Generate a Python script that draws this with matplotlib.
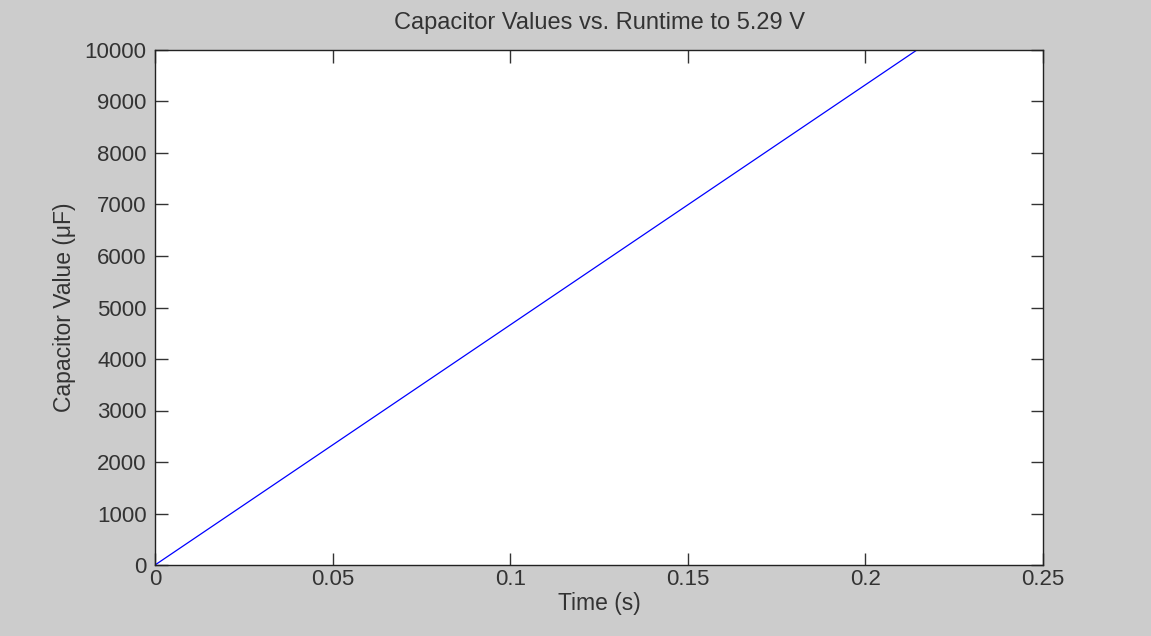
import matplotlib
matplotlib.use("Agg")
import matplotlib.pyplot as plt

# values
time_s = [0.0, 0.2145]
cap_uF = [0, 10000]
x_ticks = [0, 0.05, 0.1, 0.15, 0.2, 0.25]
x_labels = ["0", "0.05", "0.1", "0.15", "0.2", "0.25"]
y_ticks = list(range(0, 10001, 1000))

plt.rcParams["font.family"] = ["Liberation Sans", "DejaVu Sans"]

fig = plt.figure(figsize=(11.51, 6.36), dpi=100, facecolor="#cccccc")
ax = fig.add_axes([155 / 1151, 1 - 565 / 636, (1043 - 155) / 1151, (565 - 50) / 636])
ax.set_facecolor("white")

ax.plot(time_s, cap_uF, color="#0000ff", linewidth=0.9)

ax.set_xlim(0, 0.25)
ax.set_ylim(0, 10000)
ax.set_xticks(x_ticks)
ax.set_xticklabels(x_labels)
ax.set_yticks(y_ticks)

ax.tick_params(direction="in", length=9, width=1, top=True, right=True,
               labelsize=16, colors="#333333", pad=6)
ax.tick_params(axis="x", pad=3)
for s in ax.spines.values():
    s.set_linewidth(1)
    s.set_color("#222222")

ax.set_title("Capacitor Values vs. Runtime to 5.29 V", fontsize=17, color="#333333", pad=15)
ax.set_xlabel("Time (s)", fontsize=16.5, color="#333333", labelpad=1)
ax.set_ylabel("Capacitor Value (μF)", fontsize=16.5, color="#333333", labelpad=6)

fig.savefig("out.png", dpi=100, facecolor=fig.get_facecolor())
